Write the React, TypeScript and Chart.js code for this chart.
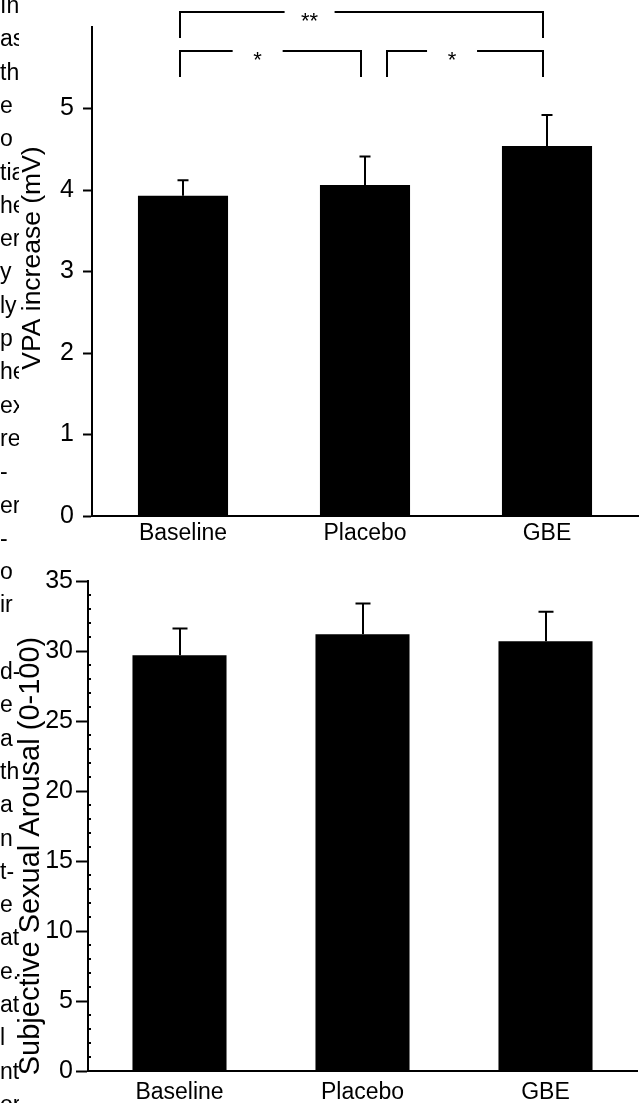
import React, { useEffect, useRef } from 'react';
import { Chart, registerables } from 'chart.js';

Chart.register(...registerables);

// ---- data ----
const categories = ['Baseline', 'Placebo', 'GBE'];
const vpaMeans = [3.93, 4.06, 4.54];
const vpaErrors = [0.19, 0.35, 0.38];
const vpaTicks = [0, 1, 2, 3, 4, 5];
const arousalMeans = [29.7, 31.2, 30.7];
const arousalErrors = [1.9, 2.2, 2.1];
const arousalTicks = [0, 5, 10, 15, 20, 25, 30, 35];
const sigFrom = [0, 0, 1];
const sigTo = [2, 1, 2];
const sigLabels = ['**', '*', '*'];
const sigLevels = [0, 1, 1];
const vpaTitle = 'VPA increase (mV)';
const arousalTitle = 'Subjective Sexual Arousal (0-100)';
const pageFragments = [
  'In', 'as', 'th', 'e', 'o', 'tia', 'he', 'er', 'y', 'ly', 'p', 'he', 'ex', 're', '-', 'er', '-',
  'o', 'ir', '', 'd-', 'e', 'a', 'th', 'a', 'n', 't-', 'e', 'at', 'e.', 'at', 'l', 'nt', 'or',
];

const FONT = '"Liberation Sans", Arial, Helvetica, sans-serif';

function errorBarPlugin(errors: number[], cap: number) {
  return {
    id: 'errorBars',
    afterDatasetsDraw(chart: any) {
      const { ctx } = chart;
      const meta = chart.getDatasetMeta(0);
      const ys = chart.scales.y;
      const vals = chart.data.datasets[0].data as number[];
      ctx.save();
      ctx.strokeStyle = '#000';
      ctx.lineWidth = 2;
      meta.data.forEach((bar: any, i: number) => {
        const x = Math.round(bar.x);
        const yTop = ys.getPixelForValue(vals[i] + errors[i]);
        ctx.beginPath();
        ctx.moveTo(x, bar.y);
        ctx.lineTo(x, yTop);
        ctx.moveTo(x - cap / 2, yTop);
        ctx.lineTo(x + cap / 2, yTop);
        ctx.stroke();
      });
      ctx.restore();
    },
  };
}

function axisTitlePlugin(text: string, size: number, cx: number, cy: number) {
  return {
    id: 'axisTitle',
    afterDraw(chart: any) {
      const { ctx } = chart;
      ctx.save();
      ctx.translate(cx, cy);
      ctx.rotate(-Math.PI / 2);
      ctx.fillStyle = '#000';
      ctx.font = `${size}px ${FONT}`;
      ctx.textAlign = 'center';
      ctx.textBaseline = 'middle';
      ctx.fillText(text, 0, 0);
      ctx.restore();
    },
  };
}

const sigPlugin = {
  id: 'sigBrackets',
  afterDraw(chart: any) {
    const { ctx, chartArea } = chart;
    const xs = chart.scales.x;
    const levelY = [chartArea.top - 15, chartArea.top + 24];
    const drop = 26;
    const labelFrac = [0.357, 0.429, 0.417];
    const gap = 25;
    ctx.save();
    ctx.strokeStyle = '#000';
    ctx.lineWidth = 2;
    ctx.fillStyle = '#000';
    ctx.font = `22px ${FONT}`;
    ctx.textAlign = 'center';
    ctx.textBaseline = 'alphabetic';
    sigFrom.forEach((f, i) => {
      const x1 = xs.getPixelForValue(f) + (f === 0 ? -3 : 22);
      const x2 = xs.getPixelForValue(sigTo[i]) - 4;
      const y = levelY[sigLevels[i]];
      const lx = x1 + (x2 - x1) * labelFrac[i];
      ctx.beginPath();
      ctx.moveTo(x1, y + drop);
      ctx.lineTo(x1, y);
      ctx.lineTo(lx - gap, y);
      ctx.moveTo(lx + gap, y);
      ctx.lineTo(x2, y);
      ctx.lineTo(x2, y + drop);
      ctx.stroke();
      ctx.fillText(sigLabels[i], lx, y + 15.5);
    });
    ctx.restore();
  },
};

const minorTickPlugin = {
  id: 'minorTicks',
  afterDraw(chart: any) {
    const { ctx, chartArea } = chart;
    const ys = chart.scales.y;
    ctx.save();
    ctx.fillStyle = '#000';
    for (let v = ys.min; v <= ys.max; v += 1) {
      if (v % 5 === 0) continue;
      const y = ys.getPixelForValue(v);
      ctx.fillRect(chartArea.left, Math.round(y) - 1, 3, 2);
    }
    ctx.restore();
  },
};

function baseOptions(opts: {
  padRight: number;
  padTop: number;
  max: number;
  ticks: number[];
  yWidth: number;
  xHeight: number;
  labelPad: number;
  tickLen: number;
  tickPad: number;
}) {
  return {
    responsive: false,
    maintainAspectRatio: false,
    animation: false as const,
    layout: { padding: { top: opts.padTop, right: opts.padRight, left: 0, bottom: 0 } },
    plugins: { legend: { display: false }, tooltip: { enabled: false } },
    scales: {
      x: {
        type: 'category' as const,
        grid: { display: false, drawTicks: false },
        border: { display: true, color: '#000', width: 2 },
        ticks: { color: '#000', font: { family: FONT, size: 23 }, padding: opts.labelPad },
        afterFit: (s: any) => {
          s.height = opts.xHeight;
        },
      },
      y: {
        min: 0,
        max: opts.max,
        afterBuildTicks: (s: any) => {
          s.ticks = opts.ticks.map((v) => ({ value: v }));
        },
        grid: {
          drawOnChartArea: false,
          drawTicks: true,
          tickLength: opts.tickLen,
          tickColor: '#000',
          tickWidth: 2,
        },
        border: { display: true, color: '#000', width: 2 },
        ticks: { color: '#000', font: { family: FONT, size: 25 }, padding: opts.tickPad },
        afterFit: (s: any) => {
          s.width = opts.yWidth;
        },
      },
    },
  };
}

export default function App() {
  const topRef = useRef<HTMLCanvasElement>(null);
  const botRef = useRef<HTMLCanvasElement>(null);

  useEffect(() => {
    const c1 = new Chart(topRef.current as HTMLCanvasElement, {
      type: 'bar',
      data: {
        labels: categories,
        datasets: [
          {
            data: vpaMeans,
            backgroundColor: '#000',
            borderWidth: 0,
            barPercentage: 0.495,
            categoryPercentage: 1,
          },
        ],
      },
      options: baseOptions({
        padRight: 4,
        padTop: 27,
        max: 6,
        ticks: vpaTicks,
        yWidth: 92,
        xHeight: 34,
        labelPad: 4,
        tickLen: 9,
        tickPad: 9,
      }) as any,
      plugins: [errorBarPlugin(vpaErrors, 11), sigPlugin, axisTitlePlugin(vpaTitle, 26.5, 33, 258)],
    });
    const c2 = new Chart(botRef.current as HTMLCanvasElement, {
      type: 'bar',
      data: {
        labels: categories,
        datasets: [
          {
            data: arousalMeans,
            backgroundColor: '#000',
            borderWidth: 0,
            barPercentage: 0.514,
            categoryPercentage: 1,
          },
        ],
      },
      options: baseOptions({
        padRight: 5,
        padTop: 31,
        max: 35,
        ticks: arousalTicks,
        yWidth: 88,
        xHeight: 32,
        labelPad: 8,
        tickLen: 12,
        tickPad: 3,
      }) as any,
      plugins: [errorBarPlugin(arousalErrors, 15), minorTickPlugin, axisTitlePlugin(arousalTitle, 29, 31, 306)],
    });
    return () => {
      c1.destroy();
      c2.destroy();
    };
  }, []);

  return (
    <div
      style={{
        position: 'absolute',
        left: 0,
        top: 0,
        width: 642,
        height: 1103,
        background: '#fff',
        overflow: 'hidden',
      }}
    >
      <canvas ref={topRef} width={642} height={550} style={{ position: 'absolute', left: 0, top: 0 }} />
      <canvas ref={botRef} width={642} height={553} style={{ position: 'absolute', left: 0, top: 550 }} />
      <div style={{ position: 'absolute', left: 0, top: 0, width: 19, height: 1103, overflow: 'hidden' }}>
        {pageFragments.map((t, k) => (
          <div
            key={k}
            style={{
              position: 'absolute',
              left: 0,
              top: 5 + 33.3 * k - 13,
              height: 26,
              lineHeight: '26px',
              font: `23px ${FONT}`,
              whiteSpace: 'nowrap',
              color: '#000',
            }}
          >
            {t}
          </div>
        ))}
      </div>
    </div>
  );
}
